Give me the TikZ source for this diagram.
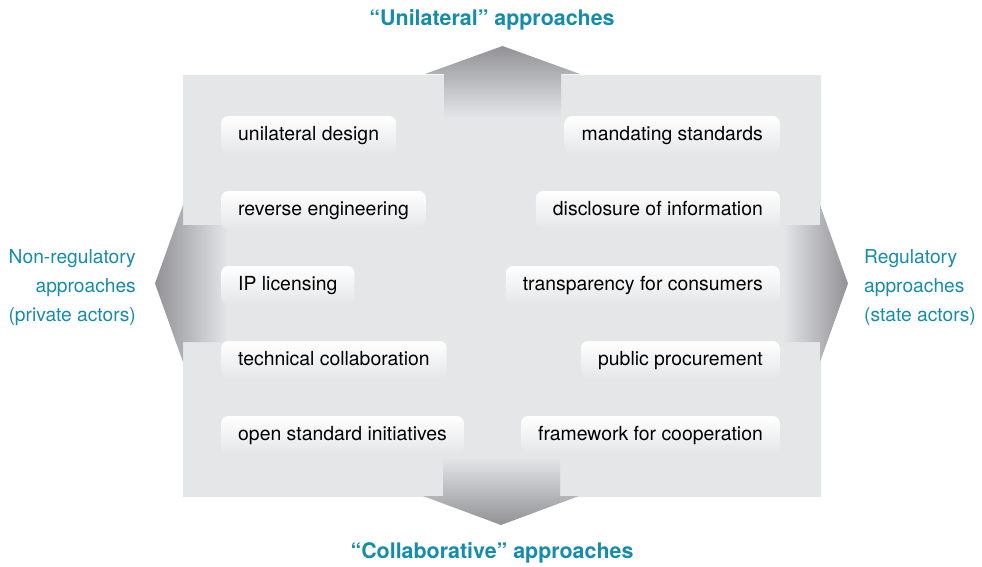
\documentclass[tikz,border=0pt]{standalone}
\usepackage{fontspec}
\setmainfont{TeX Gyre Heros}
\definecolor{bg}{RGB}{229,230,232}
\definecolor{arrowdark}{RGB}{145,145,150}
\definecolor{headteal}{RGB}{20,140,170}
\tikzset{
  item/.style={rounded corners=7pt, top color=white, bottom color=bg, draw=none,
    inner xsep=17pt, inner ysep=0pt, minimum height=38pt, text height=14pt, text depth=4pt,
    text=black, font=\fontsize{19.4}{22}\selectfont},
  title/.style={text=headteal, font=\fontsize{21.4}{25}\selectfont\bfseries},
  side/.style={text=headteal, font=\fontsize{19.2}{29}\selectfont, inner sep=0pt}
}
\begin{document}
\begin{tikzpicture}[x=1pt,y=-1pt]
\useasboundingbox (0,0) rectangle (982,566);
% background panel
\fill[bg] (183,75) rectangle (821,497);
% arrows
\shade[top color=arrowdark, bottom color=bg]
  (444,118) -- (444,74) -- (425,74) -- (502.5,46) -- (580,74) -- (561,74) -- (561,118) -- cycle;
\shade[top color=bg, bottom color=arrowdark]
  (443,457) -- (443,496) -- (423,496) -- (501,525) -- (579,496) -- (560,496) -- (560,457) -- cycle;
\shade[left color=arrowdark, right color=bg]
  (228,225) -- (183,225) -- (183,205) -- (155,283.5) -- (183,362) -- (183,342) -- (228,342) -- cycle;
\shade[left color=bg, right color=arrowdark]
  (783,225) -- (820,225) -- (820,205) -- (848,283.5) -- (820,362) -- (820,342) -- (783,342) -- cycle;
% left items
\node[item, anchor=west] (l1) at (221,135) {unilateral design};
\node[item, anchor=west] (l2) at (221,210) {reverse engineering};
\node[item, anchor=west] (l3) at (221,285) {IP licensing};
\node[item, anchor=west] (l4) at (221,360) {technical collaboration};
\node[item, anchor=west] (l5) at (221,435) {open standard initiatives};
% right items
\node[item, anchor=east] (r1) at (780,135) {mandating standards};
\node[item, anchor=east] (r2) at (780,210) {disclosure of information};
\node[item, anchor=east] (r3) at (780,285) {transparency for consumers};
\node[item, anchor=east] (r4) at (780,360) {public procurement};
\node[item, anchor=east] (r5) at (780,435) {framework for cooperation};
% titles
\node[title] (top) at (492,20) {“Unilateral” approaches};
\node[title] (bottom) at (492,553) {“Collaborative” approaches};
\node[side, align=right, anchor=east] (left) at (136,288) {Non-regulatory\\approaches\\(private actors)};
\node[side, align=left, anchor=west] (right) at (864,288) {Regulatory\\approaches\\(state actors)};
\end{tikzpicture}
\end{document}
